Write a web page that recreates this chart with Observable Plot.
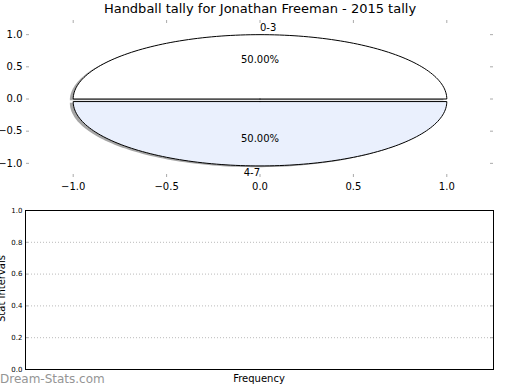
<!DOCTYPE html>
<html>
<head>
<meta charset="utf-8">
<script src="https://cdn.jsdelivr.net/npm/d3@7"></script>
<script src="https://cdn.jsdelivr.net/npm/@observablehq/plot@0.6"></script>
<style>
  html, body { margin: 0; padding: 0; background: #fff; }
  #wrap { position: relative; width: 520px; height: 390px; overflow: hidden; font-family: "DejaVu Sans", sans-serif; }
  #wrap svg { position: absolute; left: 0; }
  .txt { position: absolute; white-space: nowrap; font-family: "DejaVu Sans", sans-serif; }
</style>
</head>
<body>
<div id="wrap">
  <div class="txt" id="title" style="left:0;width:520px;text-align:center;top:1px;font-size:13px;">Handball tally for Jonathan Freeman - 2015 tally</div>
  <div class="txt" id="ylab" style="left:-36px;top:283px;width:74px;text-align:center;font-size:10px;transform:rotate(-90deg);transform-origin:50% 50%;">Stat Intervals</div>
  <div class="txt" id="xlab" style="left:0;width:518px;text-align:center;top:373px;font-size:10px;">Frequency</div>
  <div class="txt" id="wm" style="left:0;top:372px;font-size:12px;color:#959595;">Dream-Stats.com</div>
</div>
<script>
// ---- data ----
const sliceLabels = ["0-3", "4-7"];
const sliceValues = [1, 1];
const sliceExplode = [0, 0.04];
const pieXTicks = [-1, -0.5, 0, 0.5, 1];
const pieYTicks = [-1, -0.5, 0, 0.5, 1];
const histYTicks = [0, 0.2, 0.4, 0.6, 0.8, 1.0];
const histGrid = [0.2, 0.4, 0.6, 0.8];
const sliceColors = ["#ffffff", "#eaf0fd"];

const fmt = d => (d < 0 ? "\u2212" : "") + Math.abs(d).toFixed(1);

// ---- pie geometry from values ----
const total = d3.sum(sliceValues);
let start = 0;
const wedges = [], shadows = [], labelPts = [], pctPts = [];
sliceValues.forEach((v, i) => {
  const a0 = start, a1 = start + v / total * 2 * Math.PI;
  start = a1;
  const mid = (a0 + a1) / 2;
  const ox = sliceExplode[i] * Math.cos(mid), oy = sliceExplode[i] * Math.sin(mid);
  const n = 120;
  const pts = [{x: ox, y: oy}];
  for (let k = 0; k <= n; k++) {
    const a = a0 + (a1 - a0) * k / n;
    pts.push({x: ox + Math.cos(a), y: oy + Math.sin(a)});
  }
  pts.push({x: ox, y: oy});
  pts.forEach(p => { wedges.push({...p, s: i}); shadows.push({x: p.x - 0.018, y: p.y - 0.02, s: i}); });
  const c = Math.cos(mid);
  labelPts.push({x: ox + 1.1 * Math.cos(mid), y: oy + 1.1 * Math.sin(mid), t: sliceLabels[i], anchor: c > 0 ? "start" : "end"});
  pctPts.push({x: ox + 0.6 * Math.cos(mid), y: oy + 0.6 * Math.sin(mid), t: (v / total * 100).toFixed(2) + "%"});
});

const wrap = document.getElementById("wrap");

// ---- top pie plot ----
const W1 = 520, H1 = 200, mT1 = 20, mB1 = 23, mL1 = 26, mR1 = 27;
const fw1 = W1 - mL1 - mR1, fh1 = H1 - mT1 - mB1;
const piePlot = Plot.plot({
  width: W1, height: H1,
  marginTop: mT1, marginBottom: mB1, marginLeft: mL1, marginRight: mR1,
  style: {fontFamily: "DejaVu Sans", fontSize: "10px", background: "transparent", color: "#000"},
  x: {domain: [-1.25, 1.25]},
  y: {domain: [-1.22, 1.22]},
  marks: [
    Plot.line(shadows, {x: "x", y: "y", z: "s", fill: "#4d4d4d", fillOpacity: 0.5, stroke: "none"}),
    ...sliceValues.map((v, i) => Plot.line(wedges.filter(d => d.s === i), {x: "x", y: "y", fill: sliceColors[i], stroke: "#000", strokeWidth: 1})),
    Plot.text(pctPts, {x: "x", y: "y", text: "t", fontSize: 10, fill: "#000", dy: -1}),
    Plot.text(labelPts.filter(d => d.anchor === "start"), {x: "x", y: "y", text: "t", textAnchor: "start", fontSize: 10, fill: "#000"}),
    Plot.text(labelPts.filter(d => d.anchor === "end"), {x: "x", y: "y", text: "t", textAnchor: "end", fontSize: 10, fill: "#000"}),
    Plot.tickX(pieXTicks, {x: d => d, stroke: "#aaa", insetTop: fh1 - 3}),
    Plot.tickX(pieXTicks, {x: d => d, stroke: "#aaa", insetBottom: fh1 - 3}),
    Plot.tickY(pieYTicks, {y: d => d, stroke: "#aaa", insetRight: fw1 - 3}),
    Plot.tickY(pieYTicks, {y: d => d, stroke: "#aaa", insetLeft: fw1 - 3}),
    Plot.axisX({ticks: pieXTicks, tickSize: 0, tickPadding: 5, tickFormat: fmt, label: null}),
    Plot.axisY({ticks: pieYTicks, tickSize: 0, tickPadding: 4, tickFormat: fmt, label: null})
  ]
});
piePlot.style.top = "0px";
wrap.appendChild(piePlot);

// ---- bottom empty plot ----
const W2 = 520, H2 = 175, mT2 = 10, mB2 = 6, mL2 = 25, mR2 = 27;
const fw2 = W2 - mL2 - mR2;
const histPlot = Plot.plot({
  width: W2, height: H2,
  marginTop: mT2, marginBottom: mB2, marginLeft: mL2, marginRight: mR2,
  style: {fontFamily: "DejaVu Sans", fontSize: "7px", background: "transparent", color: "#000"},
  x: {domain: [0, 1], axis: null},
  y: {domain: [0, 1]},
  marks: [
    Plot.ruleY(histGrid, {y: d => d, stroke: "#bbb", strokeDasharray: "1,2"}),
    Plot.tickY(histYTicks, {y: d => d, stroke: "#aaa", insetRight: fw2 - 3}),
    Plot.tickY(histYTicks, {y: d => d, stroke: "#aaa", insetLeft: fw2 - 3}),
    Plot.frame({stroke: "#000", strokeWidth: 1}),
    Plot.axisY({ticks: histYTicks, tickSize: 0, tickPadding: 3, tickFormat: fmt, label: null, fontSize: 7})
  ]
});
histPlot.style.top = "200px";
wrap.appendChild(histPlot);
</script>
</body>
</html>
